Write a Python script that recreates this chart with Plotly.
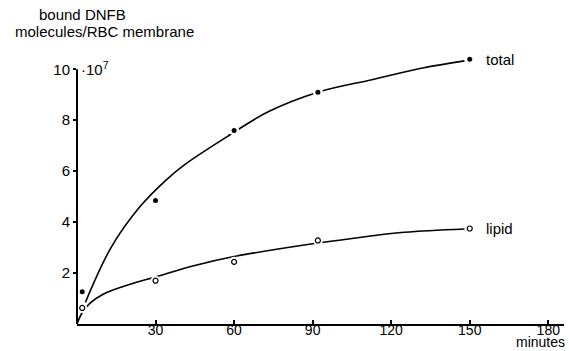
import plotly.graph_objects as go

# Measured binding (molecules per RBC membrane, in units of 10^7)
times_total = [2, 30, 60, 92, 150]
total_vals = [1.27, 4.85, 7.6, 9.1, 10.39]
times_lipid = [2, 30, 60, 92, 150]
lipid_vals = [0.63, 1.70, 2.44, 3.28, 3.75]

# Hand-drawn fitted curves through the measurements
total_curve_t = [3.2, 13, 24, 34, 41, 58, 73, 92, 113, 132, 148]
total_curve_v = [0.85, 3.0, 4.6, 5.65, 6.25, 7.4, 8.33, 9.1, 9.6, 10.05, 10.33]
lipid_curve_t = [0, 2, 5, 10, 20, 30, 45, 60, 90, 105, 125, 148]
lipid_curve_v = [0, 0.45, 0.82, 1.17, 1.55, 1.85, 2.3, 2.65, 3.15, 3.36, 3.6, 3.73]

x_ticks = [30, 60, 90, 120, 150, 180]
y_ticks = [2, 4, 6, 8, 10]

FONT = "Liberation Sans"
INK = "black"

fig = go.Figure()

for t, v in [(total_curve_t, total_curve_v), (lipid_curve_t, lipid_curve_v)]:
    fig.add_trace(go.Scatter(x=t, y=v, mode="lines", line=dict(color=INK, width=1.6, shape="spline"),
                             hoverinfo="skip", showlegend=False))

# white halo so the curves break around the points
fig.add_trace(go.Scatter(x=times_total + times_lipid, y=total_vals + lipid_vals, mode="markers",
                         marker=dict(color="white", size=10, line=dict(width=0)),
                         hoverinfo="skip", showlegend=False))
fig.add_trace(go.Scatter(x=times_total, y=total_vals, mode="markers", name="total",
                         marker=dict(color=INK, size=5, symbol="circle"), showlegend=False))
fig.add_trace(go.Scatter(x=times_lipid, y=lipid_vals, mode="markers", name="lipid",
                         marker=dict(color="white", size=5, symbol="circle", line=dict(color=INK, width=1.2)),
                         showlegend=False))

fig.update_layout(
    width=569, height=351,
    margin=dict(l=77, r=5, t=54, b=27),
    plot_bgcolor="white", paper_bgcolor="white",
    font=dict(family=FONT, color=INK, size=15),
    showlegend=False,
)
fig.update_xaxes(range=[0, 186], tickvals=x_ticks, ticktext=[str(v) for v in x_ticks],
                 showline=True, linecolor=INK, linewidth=2, ticks="inside", ticklen=4,
                 tickcolor=INK, tickwidth=1.5, showgrid=False, zeroline=False,
                 tickfont=dict(size=14), ticklabelstandoff=-8)
fig.update_yaxes(range=[0, 10.6], tickvals=y_ticks, ticktext=[str(v) for v in y_ticks],
                 showline=False, ticks="outside", ticklen=3,
                 tickcolor=INK, tickwidth=1.5, showgrid=False, zeroline=False,
                 tickfont=dict(size=15), ticklabelstandoff=0)

# vertical axis line stops at the top tick
fig.add_shape(type="line", xref="paper", yref="y", x0=0, x1=0, y0=0, y1=y_ticks[-1],
              line=dict(color=INK, width=2))

ann = [
    dict(text="bound DNFB", xref="paper", yref="paper", x=0, xshift=-40, y=1.148,
         xanchor="left", yanchor="middle", font=dict(size=15)),
    dict(text="molecules/RBC membrane", xref="paper", yref="paper", x=0, xshift=-64, y=1.085,
         xanchor="left", yanchor="middle", font=dict(size=15)),
    dict(text="·10<sup>7</sup>", xref="paper", yref="y", x=0, xshift=2, y=10.05,
         xanchor="left", yanchor="middle", font=dict(size=15)),
    dict(text="minutes", xref="paper", yref="paper", x=1.0, xshift=2, y=-0.1,
         xanchor="right", yanchor="bottom", borderpad=0, font=dict(size=14)),
    dict(text="total", x=times_total[-1], y=total_vals[-1], xshift=14,
         xanchor="left", yanchor="middle", font=dict(size=15)),
    dict(text="lipid", x=times_lipid[-1], y=lipid_vals[-1], xshift=14,
         xanchor="left", yanchor="middle", font=dict(size=15)),
]
for a in ann:
    a.setdefault("showarrow", False)
    fig.add_annotation(**a)

fig.write_html("out.html")
